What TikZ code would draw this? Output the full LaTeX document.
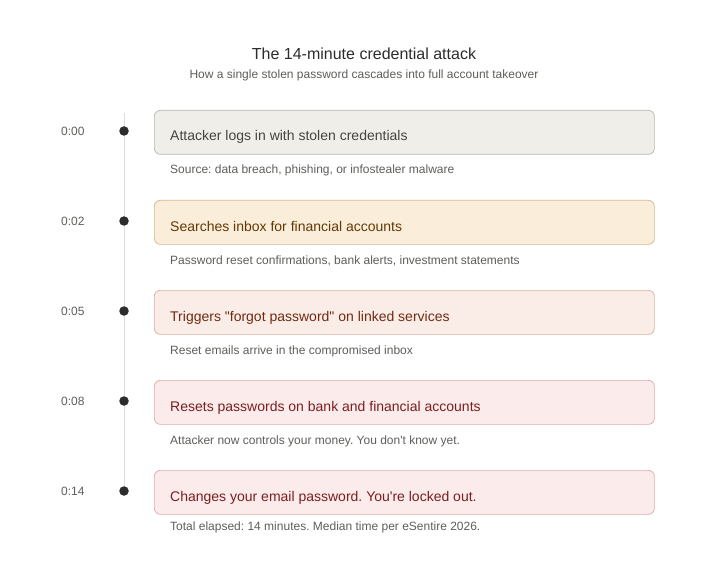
\documentclass[tikz,border=0pt]{standalone}
\usepackage{fontspec}
\setmainfont{Liberation Sans}[Ligatures=TeXOff]
\definecolor{bg}{HTML}{FFFFFF}
\definecolor{titlec}{HTML}{2C2C2A}
\definecolor{subc}{HTML}{5F5E5A}
\definecolor{linec}{HTML}{DDDDDA}
\definecolor{dotc}{HTML}{2C2C2A}
\definecolor{grayfill}{HTML}{EFEEE9}
\definecolor{graydraw}{HTML}{B8B6AE}
\definecolor{graytext}{HTML}{444441}
\definecolor{ambfill}{HTML}{FAEEDA}
\definecolor{ambdraw}{HTML}{D4B88C}
\definecolor{ambtext}{HTML}{633806}
\definecolor{corfill}{HTML}{FAECE7}
\definecolor{cordraw}{HTML}{DDAE9E}
\definecolor{cortext}{HTML}{712B13}
\definecolor{redfill}{HTML}{FCEBEB}
\definecolor{reddraw}{HTML}{DFA9A9}
\definecolor{redtext}{HTML}{791F1F}
\tikzset{
  px/.style={x=1pt,y=-1pt},
  card/.style={rounded corners=6pt, line width=0.7pt, minimum width=500pt, minimum height=44pt, anchor=north west, inner sep=0pt},
  cardtext/.style={anchor=base west, inner sep=0pt, font=\fontsize{14}{17}\selectfont},
  subtext/.style={anchor=base west, inner sep=0pt, font=\fontsize{12}{14}\selectfont, text=subc},
  timetext/.style={anchor=base west, inner sep=0pt, font=\fontsize{12}{14}\selectfont, text=subc},
  dotn/.style={circle, fill=dotc, minimum size=9.5pt, inner sep=0pt}
}
\begin{document}
\frenchspacing
\begin{tikzpicture}[px]
\fill[bg] (0,0) rectangle (728,572);
\useasboundingbox (0,0) rectangle (728,572);
\node[font=\fontsize{16}{19}\selectfont, text=titlec, anchor=base] (title) at (364,60) {The 14-minute credential attack};
\node[font=\fontsize{12}{14}\selectfont, text=subc, anchor=base] (subtitle) at (364,79) {How a single stolen password cascades into full account takeover};
\coordinate (ltop) at (124,113);
\coordinate (lbot) at (124,491);
\draw[linec, line width=1pt] (ltop) -- (lbot);
% row 1
\node[dotn] (d1) at (124,131) {};
\node[timetext] (t1) at (61,135.5) {0:00};
\node[card, fill=grayfill, draw=graydraw] (b1) at (154,110) {};
\node[cardtext, text=graytext] (c1) at (170,141) {Attacker logs in with stolen credentials};
\node[subtext] (s1) at (170,174) {Source: data breach, phishing, or infostealer malware};
% row 2
\node[dotn] (d2) at (124,221) {};
\node[timetext] (t2) at (61,225.5) {0:02};
\node[card, fill=ambfill, draw=ambdraw] (b2) at (154,200) {};
\node[cardtext, text=ambtext] (c2) at (170,231) {Searches inbox for financial accounts};
\node[subtext] (s2) at (170,264) {Password reset confirmations, bank alerts, investment statements};
% row 3
\node[dotn] (d3) at (124,311) {};
\node[timetext] (t3) at (61,315.5) {0:05};
\node[card, fill=corfill, draw=cordraw] (b3) at (154,290) {};
\node[cardtext, text=cortext] (c3) at (170,321) {Triggers "forgot password" on linked services};
\node[subtext] (s3) at (170,354) {Reset emails arrive in the compromised inbox};
% row 4
\node[dotn] (d4) at (124,401) {};
\node[timetext] (t4) at (61,405.5) {0:08};
\node[card, fill=redfill, draw=reddraw] (b4) at (154,380) {};
\node[cardtext, text=redtext] (c4) at (170,411) {Resets passwords on bank and financial accounts};
\node[subtext] (s4) at (170,444) {Attacker now controls your money. You don't know yet.};
% row 5
\node[dotn] (d5) at (124,491) {};
\node[timetext] (t5) at (61,495.5) {0:14};
\node[card, fill=redfill, draw=reddraw] (b5) at (154,470) {};
\node[cardtext, text=redtext] (c5) at (170,501) {Changes your email password. You're locked out.};
\node[subtext] (s5) at (170,530) {Total elapsed: 14 minutes. Median time per eSentire 2026.};
\end{tikzpicture}
\end{document}
